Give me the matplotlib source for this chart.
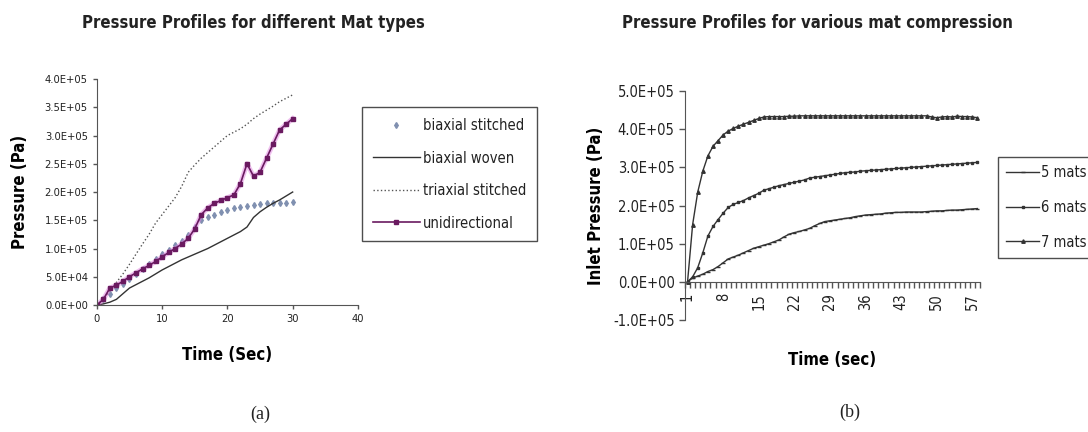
import matplotlib
matplotlib.use('Agg')
import matplotlib.pyplot as plt
import matplotlib.ticker as mticker
import numpy as np

# ── Data: panel (a) mat types ──
t_a = [0, 1, 2, 3, 4, 5, 6, 7, 8, 9, 10, 11, 12, 13, 14, 15, 16, 17, 18, 19, 20,
       21, 22, 23, 24, 25, 26, 27, 28, 29, 30]
biaxial_stitched = [0, 0.10e5, 0.20e5, 0.30e5, 0.38e5, 0.46e5, 0.55e5, 0.64e5, 0.73e5, 0.82e5,
                    0.90e5, 0.98e5, 1.06e5, 1.14e5, 1.24e5, 1.38e5, 1.50e5, 1.56e5, 1.60e5, 1.65e5,
                    1.68e5, 1.71e5, 1.73e5, 1.75e5, 1.77e5, 1.78e5, 1.80e5, 1.80e5, 1.81e5, 1.81e5, 1.82e5]
biaxial_woven = [0, 0.02e5, 0.05e5, 0.10e5, 0.20e5, 0.30e5, 0.36e5, 0.42e5, 0.48e5, 0.55e5,
                 0.62e5, 0.68e5, 0.74e5, 0.80e5, 0.85e5, 0.90e5, 0.95e5, 1.00e5, 1.06e5, 1.12e5,
                 1.18e5, 1.24e5, 1.30e5, 1.38e5, 1.55e5, 1.65e5, 1.73e5, 1.80e5, 1.86e5, 1.93e5, 2.00e5]
triaxial_stitched = [0, 0.10e5, 0.25e5, 0.40e5, 0.55e5, 0.72e5, 0.90e5, 1.08e5, 1.25e5, 1.45e5,
                     1.60e5, 1.75e5, 1.90e5, 2.10e5, 2.35e5, 2.48e5, 2.60e5, 2.70e5, 2.80e5, 2.90e5,
                     3.00e5, 3.06e5, 3.12e5, 3.20e5, 3.30e5, 3.38e5, 3.45e5, 3.52e5, 3.60e5, 3.66e5, 3.72e5]
unidirectional = [0, 0.10e5, 0.30e5, 0.35e5, 0.42e5, 0.50e5, 0.57e5, 0.64e5, 0.70e5, 0.77e5,
                  0.85e5, 0.93e5, 1.00e5, 1.08e5, 1.18e5, 1.35e5, 1.60e5, 1.72e5, 1.80e5, 1.85e5,
                  1.90e5, 1.95e5, 2.15e5, 2.50e5, 2.28e5, 2.35e5, 2.60e5, 2.85e5, 3.10e5, 3.20e5, 3.30e5]

# ── Data: panel (b) mat compression (Excel category axis 1..58) ──
cat_b = list(range(1, 59))
mats5 = [0, 0.10e5, 0.15e5, 0.20e5, 0.27e5, 0.32e5, 0.40e5, 0.50e5, 0.60e5, 0.65e5,
         0.70e5, 0.76e5, 0.82e5, 0.88e5, 0.92e5, 0.96e5, 1.00e5, 1.05e5, 1.10e5, 1.18e5,
         1.25e5, 1.29e5, 1.32e5, 1.36e5, 1.40e5, 1.47e5, 1.53e5, 1.58e5, 1.60e5, 1.62e5,
         1.64e5, 1.66e5, 1.68e5, 1.71e5, 1.73e5, 1.75e5, 1.76e5, 1.77e5, 1.78e5, 1.80e5,
         1.81e5, 1.82e5, 1.82e5, 1.83e5, 1.83e5, 1.83e5, 1.83e5, 1.84e5, 1.85e5, 1.86e5,
         1.86e5, 1.87e5, 1.88e5, 1.88e5, 1.89e5, 1.90e5, 1.91e5, 1.92e5]
mats6 = [0, 0.13e5, 0.37e5, 0.76e5, 1.20e5, 1.45e5, 1.63e5, 1.80e5, 1.95e5, 2.03e5,
         2.08e5, 2.13e5, 2.20e5, 2.26e5, 2.32e5, 2.40e5, 2.44e5, 2.48e5, 2.52e5, 2.55e5,
         2.58e5, 2.61e5, 2.64e5, 2.67e5, 2.72e5, 2.74e5, 2.76e5, 2.78e5, 2.80e5, 2.82e5,
         2.84e5, 2.86e5, 2.87e5, 2.88e5, 2.90e5, 2.91e5, 2.92e5, 2.93e5, 2.94e5, 2.95e5,
         2.96e5, 2.97e5, 2.98e5, 2.99e5, 3.00e5, 3.01e5, 3.02e5, 3.03e5, 3.04e5, 3.05e5,
         3.06e5, 3.07e5, 3.08e5, 3.09e5, 3.10e5, 3.11e5, 3.12e5, 3.13e5]
mats7 = [0, 1.50e5, 2.35e5, 2.90e5, 3.30e5, 3.55e5, 3.70e5, 3.85e5, 3.95e5, 4.02e5,
         4.08e5, 4.13e5, 4.18e5, 4.23e5, 4.28e5, 4.32e5, 4.33e5, 4.33e5, 4.33e5, 4.33e5,
         4.34e5, 4.34e5, 4.35e5, 4.35e5, 4.35e5, 4.35e5, 4.35e5, 4.35e5, 4.35e5, 4.35e5,
         4.35e5, 4.35e5, 4.35e5, 4.35e5, 4.35e5, 4.35e5, 4.35e5, 4.35e5, 4.35e5, 4.35e5,
         4.35e5, 4.35e5, 4.35e5, 4.35e5, 4.35e5, 4.35e5, 4.35e5, 4.35e5, 4.32e5, 4.30e5,
         4.32e5, 4.33e5, 4.32e5, 4.34e5, 4.33e5, 4.33e5, 4.32e5, 4.30e5]

# narrow sans, like the Arial Narrow of the original Excel charts
plt.rcParams.update({
    'font.family': ['Liberation Sans Narrow', 'DejaVu Sans'],
    'font.stretch': 'condensed',
    'text.color': '#222222',
    'axes.edgecolor': '#555555',
    'xtick.color': '#555555',
    'ytick.color': '#555555',
    'xtick.labelcolor': '#222222',
    'ytick.labelcolor': '#222222',
})
SERIF = ['Liberation Serif', 'DejaVu Serif']

fig = plt.figure(figsize=(10.88, 4.32), dpi=100)
sci = mticker.FuncFormatter(lambda v, _: f'{v:.1E}')

# ═════════════ Panel (a) ═════════════
ax1 = fig.add_axes([0.089, 0.294, 0.240, 0.523])
ax1.plot(t_a, biaxial_stitched, linestyle='none', marker='d', markersize=3,
         color='#8090b0', label='biaxial stitched')
ax1.plot(t_a, biaxial_woven, color='#333333', linewidth=1, label='biaxial woven')
ax1.plot(t_a, triaxial_stitched, color='#555555', linestyle=':', linewidth=1,
         label='triaxial stitched')
ax1.plot(t_a, unidirectional, color='#e080e0', linewidth=3.5, alpha=0.5)
ax1.plot(t_a, unidirectional, color='#6a1a60', linewidth=1.2, marker='s', markersize=2.5,
         label='unidirectional')

ax1.set_xlim(0, 40)
ax1.set_ylim(0, 4e5)
ax1.set_xticks([0, 10, 20, 30, 40])
ax1.set_yticks(np.arange(0, 4.01e5, 5e4))
ax1.yaxis.set_major_formatter(sci)
ax1.tick_params(axis='both', labelsize=8, length=3, width=1)
for s in ['top', 'right']:
    ax1.spines[s].set_visible(False)
ax1.set_xlabel('Time (Sec)', fontsize=12, fontweight='bold', labelpad=16)
ax1.set_ylabel('Pressure (Pa)', fontsize=12, fontweight='bold', labelpad=11)
fig.text(0.233, 0.947, 'Pressure Profiles for different Mat types', ha='center',
         va='center', fontsize=12, fontweight='bold')

leg1 = fig.legend(*ax1.get_legend_handles_labels(), loc='upper left',
                  bbox_to_anchor=(0.326, 0.769), fontsize=10.5, frameon=True,
                  fancybox=False, edgecolor='#222222', handlelength=3.2,
                  labelspacing=1.2, borderpad=0.75, handletextpad=0.2)
leg1.get_frame().set_linewidth(1)

fig.text(0.239, 0.04, '(a)', ha='center', va='center', fontsize=13,
         family=SERIF, stretch='normal')

# ═════════════ Panel (b) ═════════════
ax2 = fig.add_axes([0.6296, 0.2593, 0.2711, 0.530])
ax2.plot(cat_b, mats5, color='#333333', linewidth=1, marker='_', markersize=3, label='5 mats')
ax2.plot(cat_b, mats6, color='#333333', linewidth=1, marker='s', markersize=1.8, label='6 mats')
ax2.plot(cat_b, mats7, color='#333333', linewidth=1, marker='^', markersize=2.5, label='7 mats')

ax2.set_xlim(0.5, 58.5)
ax2.set_ylim(-1e5, 5e5)
ax2.set_yticks(np.arange(-1e5, 5.01e5, 1e5))
ax2.yaxis.set_major_formatter(sci)
ax2.spines['bottom'].set_position(('data', 0))
for s in ['top', 'right']:
    ax2.spines[s].set_visible(False)
ax2.set_xticks(cat_b[::7])
ax2.set_xticklabels([str(c) for c in cat_b[::7]], rotation=90)
ax2.set_xticks(np.arange(0.5, 58.6, 1), minor=True)
ax2.tick_params(axis='x', which='major', length=0, labelsize=10.5, pad=8)
ax2.tick_params(axis='x', which='minor', length=4, width=1, direction='out')
ax2.tick_params(axis='y', labelsize=10.5, length=4, width=1)
ax2.set_xlabel('Time (sec)', fontsize=12, fontweight='bold')
ax2.xaxis.set_label_coords(0.5, -0.135)
ax2.set_ylabel('Inlet Pressure (Pa)', fontsize=12, fontweight='bold', labelpad=6)
fig.text(0.751, 0.947, 'Pressure Profiles for various mat compression', ha='center',
         va='center', fontsize=12, fontweight='bold')

leg2 = fig.legend(*ax2.get_legend_handles_labels(), loc='upper left',
                  bbox_to_anchor=(0.911, 0.653), fontsize=10.5, frameon=True,
                  fancybox=False, edgecolor='#222222', handlelength=2.2,
                  labelspacing=1.35, borderpad=0.55, handletextpad=0.15)
leg2.get_frame().set_linewidth(1)

fig.text(0.781, 0.045, '(b)', ha='center', va='center', fontsize=13,
         family=SERIF, stretch='normal')

fig.savefig('out.png', dpi=100, facecolor='white')
plt.close()
